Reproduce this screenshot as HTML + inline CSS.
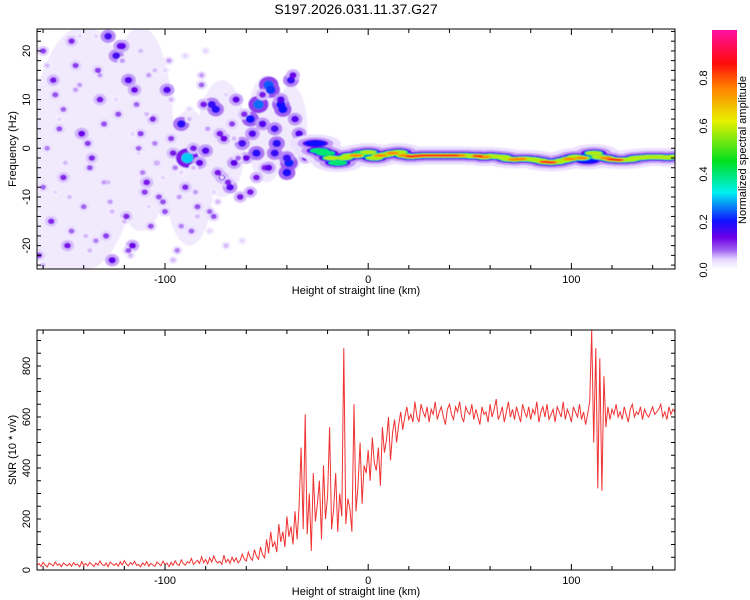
<!DOCTYPE html>
<html><head><meta charset="utf-8">
<style>
body{margin:0;background:#fff;}
svg{display:block;font-family:"Liberation Sans",sans-serif;}
</style></head>
<body>
<svg id="chart" width="750" height="600" viewBox="0 0 750 600" xmlns="http://www.w3.org/2000/svg">
<rect width="750" height="600" fill="#fff"/>
<text x="356" y="14" font-size="14" text-anchor="middle">S197.2026.031.11.37.G27</text>
<defs>
<clipPath id="clipTop"><rect x="37" y="29" width="638" height="240"/></clipPath>
<clipPath id="clipBot"><rect x="37" y="330" width="638" height="240"/></clipPath>
<linearGradient id="cbar" x1="0" y1="1" x2="0" y2="0">
<stop offset="0" stop-color="#ffffff"/><stop offset="0.04" stop-color="#e6d6ff"/><stop offset="0.08" stop-color="#a060f0"/>
<stop offset="0.13" stop-color="#7000e8"/><stop offset="0.2" stop-color="#1010ff"/><stop offset="0.32" stop-color="#00f0f0"/>
<stop offset="0.45" stop-color="#00e020"/><stop offset="0.62" stop-color="#e8f000"/><stop offset="0.76" stop-color="#ff8000"/>
<stop offset="0.86" stop-color="#ff0c0c"/><stop offset="1" stop-color="#ff10a0"/>
</linearGradient>
<filter id="soft"><feGaussianBlur stdDeviation="0.6"/></filter>
</defs>
<g id="topPlot"></g>
<g id="botPlot"></g>
<g>
<rect x="712" y="30" width="25" height="239" fill="url(#cbar)"/>
<g font-size="11" fill="#000">
<text transform="translate(707,270) rotate(-90)" text-anchor="middle">0.0</text>
<text transform="translate(707,222) rotate(-90)" text-anchor="middle">0.2</text>
<text transform="translate(707,174) rotate(-90)" text-anchor="middle">0.4</text>
<text transform="translate(707,126) rotate(-90)" text-anchor="middle">0.6</text>
<text transform="translate(707,78) rotate(-90)" text-anchor="middle">0.8</text>
<text transform="translate(746,150) rotate(-90)" text-anchor="middle" font-size="11">Normalized spectral amplitude</text>
</g>
</g>
</svg>
<script>
// ---- data ----
const xTicks=[-100,0,100];
const freqTicks=[-20,-10,0,10,20];
const snrTicks=[0,200,400,600,800];
const snrStart=-163, snrStep=1;
const snrValues=[18,25,14,30,20,12,27,22,16,31,
19,24,13,28,21,17,26,15,29,20,
23,12,33,18,25,16,30,21,14,27,
19,35,22,17,28,13,31,24,18,26,
15,32,20,37,23,16,29,21,34,18,
22,12,28,19,33,15,26,20,14,31,
24,17,35,21,27,13,30,19,36,22,
18,40,25,19,33,27,45,22,30,38,
26,52,29,41,24,48,31,55,36,28,
34,22,58,30,42,26,50,33,47,28,
38,62,44,35,70,49,38,80,55,42,90,60,48,120,65,150,90,110,
70,180,110,150,90,210,130,170,100,230,
120,250,480,160,610,140,300,75,380,190,260,350,120,410,200,290,
560,160,240,380,150,300,210,870,180,280,240,150,650,230,330,500,260,410,380,
470,350,520,420,390,480,330,560,460,510,600,430,540,590,500,570,620,550,600,640,590,610,580,660,600,
580,650,620,600,640,580,630,610,660,590,
620,640,600,570,630,650,610,590,640,620,
660,600,580,640,620,610,650,590,630,600,
570,640,610,620,580,650,600,630,670,590,
610,640,580,620,660,600,630,590,640,610,
580,650,620,600,640,590,630,610,660,580,
620,640,600,650,590,610,630,580,640,620,
600,660,590,630,610,580,640,620,600,650,
590,620,570,610,
660,940,500,870,320,830,310,760,560,640,590,
630,610,650,600,620,590,640,610,580,630,650,600,620,610,640,590,630,610,600,620,640,610,620,630,650,600,620,590,640,610,630,620];
// spectrogram features
const ridgeKm=[-26,-24,-21,-18,-15,-12,-9,-6,-3,0,3,6,9,12,15,18,21,24,27,30,33,36,39,42,45,48,51,54,57,60,63,66,69,72,75,78,81,84,87,90,93,96,99,102,105,108,111,114,117,120,123,126,129,132,135,138,141,144,147,150];
const ridgeHz=[1,-0.5,-1,-2,-3,-2,-1.5,-1.5,-1,-0.8,-2,-1.5,-1.3,-1,-0.8,-1.5,-1.7,-1.6,-1.5,-1.5,-1.5,-1.5,-1.5,-1.5,-1.5,-1.5,-1.6,-1.6,-1.8,-1.6,-1.7,-1.8,-2.2,-2.3,-2.2,-2.2,-2.3,-2.5,-2.8,-2.9,-2.8,-2.5,-2.2,-1.8,-2,-2.5,-1,-1.8,-2,-2.3,-2.4,-2.4,-2.3,-2,-1.9,-1.8,-1.8,-1.8,-1.9,-1.8];
const ridgeAmp=[0.3,0.35,0.45,0.5,0.45,0.55,0.6,0.7,0.45,0.6,0.55,0.75,0.6,0.7,0.55,0.65,0.8,0.85,0.9,0.9,0.9,0.85,0.85,0.8,0.75,0.6,0.55,0.8,0.65,0.55,0.5,0.5,0.6,0.75,0.7,0.5,0.6,0.55,0.85,0.85,0.6,0.5,0.7,0.55,0.75,0.3,0.55,0.55,0.7,0.85,0.85,0.6,0.5,0.5,0.5,0.55,0.55,0.5,0.5,0.5];
// light haze regions: centre km, centre Hz, half-width km, half-height Hz
const hazeKm=[-140,-112,-88,-72,-50,-38,-150];
const hazeHz=[0,4,-6,2,4,4,-18];
const hazeWkm=[26,16,12,12,10,8,14];
const hazeHhz=[25,21,14,12,11,9,8];
const blobKm=[-160,-155,-150,-146,-141,-137,-133,-128,-124,-121,-118,-115,-112,-109,-106,-103,-99,-96,-92,-89,-86,-83,-80,-77,-74,-71,-68,-65,-62,-58,-55,-52,-49,-46,-43,-40,-38,-36,-160,-156,-152,-148,-144,-140,-136,-132,-129,-126,-123,-119,-116,-113,-110,-107,-104,-100,-97,-94,-90,-87,-84,-81,-78,-75,-72,-69,-66,-63,-60,-57,-54,-51,-48,-45,-42,-39,-34,-31,-28,-162,-158,-154,-150,-146,-142,-138,-134,-130,-127,-122,-118,-114,-111,-108,-105,-101,-98,-95,-92,-88,-85,-82,-79,-76,-73,-70,-67,-64,-61,-58,-55,-52,-49,-46,-43,-40,-37,-160,-154,-149,-144,-139,-134,-130,-126,-121,-117,-113,-109,-105,-101,-97,-93,-90,-86,-82,-78,-74,-70,-66,-62,-158,-152,-147,-142,-137,-132,-128,-124,-120,-116,-112,-108,-104,-100,-96,-92,-88,-84,-80,-76,-72,-68];
const blobHz=[20,14,8,22,3,-4,16,23,19,21,14,12,3,-7,6,-10,12,-1,5,-2,0,-3,-0.5,9,-5,2,-8,10,1,6,-6,5,13,-1,9,-5,14,6,-8,-15,4,-20,17,-12,-2,10,-18,-23,7,-14,-20,0,-9,-16,-3,-13,2,-21,-8,-17,-12,9,-13,8,-6,-7,-3,-10,-2,3,9,-4,12,1,8,-3,3,-2,-1,-22,0,11,-6,-17,13,1,-19,5,-11,21,-21,9,-5,15,1,-11,18,-4,-16,6,-9,13,4,-14,3,-20,5,-2,7,-9,-1,11,-4,4,10,-2,15,-24,-9,-3,12,-18,23,-7,-13,18,-22,-1,7,16,-6,10,-10,19,-4,15,-17,-11,11,2,-19,17,6,-10,23,-21,15,-7,10,-15,3,20,-12,-3,16,-23,-5,8,-14,20,-9,-6,-11];
const blobAmp=[0.1,0.12,0.08,0.11,0.13,0.09,0.1,0.16,0.16,0.14,0.15,0.13,0.1,0.12,0.11,0.09,0.15,0.12,0.18,0.3,0.12,0.14,0.15,0.17,0.12,0.13,0.15,0.14,0.16,0.2,0.12,0.15,0.24,0.17,0.2,0.19,0.17,0.15,0.08,0.11,0.09,0.12,0.1,0.08,0.11,0.12,0.1,0.14,0.09,0.11,0.13,0.08,0.1,0.09,0.08,0.09,0.1,0.07,0.11,0.08,0.09,0.12,0.08,0.18,0.13,0.11,0.14,0.12,0.13,0.15,0.25,0.11,0.22,0.18,0.2,0.21,0.15,0.12,0.2,0.1,0.07,0.09,0.11,0.08,0.06,0.1,0.07,0.09,0.06,0.14,0.09,0.08,0.07,0.06,0.07,0.09,0.06,0.07,0.07,0.05,0.06,0.08,0.06,0.09,0.12,0.05,0.1,0.08,0.11,0.12,0.18,0.12,0.14,0.16,0.15,0.17,0.13,0.05,0.04,0.05,0.06,0.05,0.04,0.06,0.05,0.06,0.05,0.04,0.05,0.05,0.04,0.05,0.06,0.04,0.05,0.06,0.04,0.05,0.04,0.05,0.04,0.05,0.04,0.05,0.04,0.05,0.06,0.05,0.04,0.05,0.04,0.05,0.04,0.05,0.04,0.05,0.04,0.04,0.05,0.04,0.04,0.04];

// ---- axes ----
const NS="http://www.w3.org/2000/svg";
const X0=37,X1=675,XMIN=-163,XMAX=151;
const xs=v=>X0+(v-XMIN)/(XMAX-XMIN)*(X1-X0);
const fTop=29,fBot=269,FMIN=-24.8,FMAX=24.5;
const fy=v=>fBot-(v-FMIN)/(FMAX-FMIN)*(fBot-fTop);
const sTop=330,sBot=570,SMIN=0,SMAX=941;
const sy=v=>sBot-(v-SMIN)/(SMAX-SMIN)*(sBot-sTop);
const kmPx=(X1-X0)/(XMAX-XMIN), hzPx=(fBot-fTop)/(FMAX-FMIN);
function mk(tag,attrs,parent){const e=document.createElementNS(NS,tag);for(const k in attrs)e.setAttribute(k,attrs[k]);parent.appendChild(e);return e;}
const stops=[[0,[255,255,255]],[0.04,[230,214,255]],[0.08,[160,96,240]],[0.13,[112,0,232]],[0.2,[16,16,255]],[0.32,[0,240,240]],[0.45,[0,224,32]],[0.62,[232,240,0]],[0.76,[255,128,0]],[0.86,[255,12,12]],[1,[255,16,160]]];
function cmap(v){v=Math.max(0,Math.min(1,v));for(let i=1;i<stops.length;i++){if(v<=stops[i][0]){const a=stops[i-1],b=stops[i],t=(v-a[0])/(b[0]-a[0]);const c=a[1].map((q,j)=>Math.round(q+(b[1][j]-q)*t));return `rgb(${c})`;}}return 'rgb(255,16,160)';}

const topG=document.getElementById('topPlot');
const botG=document.getElementById('botPlot');
const tg=mk('g',{'clip-path':'url(#clipTop)'},topG);
const tgi=mk('g',{filter:'url(#soft)'},tg);
for(let i=0;i<hazeKm.length;i++){
 const e=mk('ellipse',{cx:xs(hazeKm[i]),cy:fy(hazeHz[i]),rx:hazeWkm[i]*kmPx,ry:hazeHhz[i]*hzPx,fill:'#f1eafd'},tgi);
 
 
}
// noise blobs, halo layers first
const layers=[[0.4,1.9],[1,1]];
layers.forEach(([f,s])=>{
 for(let i=0;i<blobKm.length;i++){
  const a=blobAmp[i];
  const e=mk('ellipse',{cx:xs(blobKm[i]),cy:fy(blobHz[i]),rx:(1.8+a*14)*s,ry:(1.6+a*12)*s,fill:cmap(a*f)},tgi);
  
  
 }
});
// ridge
const rl=[[0.02,9,0.03],[0.05,6,0.06],[0.15,4,0.13],[0.22,3.2,0.2],[0.35,2.6,0.4],[0.5,2,0.58],[0.65,1.4,0.75],[0.8,0.9,0.88]];
rl.forEach(([th,w,c])=>{
 for(let i=0;i<ridgeKm.length;i++){
  const a=ridgeAmp[i];
  if(a<th)continue;
  const e=mk('ellipse',{cx:xs(ridgeKm[i]),cy:fy(ridgeHz[i]),rx:2.5*w+3,ry:w,fill:cmap(c)},tgi);
  
  
 }
});
// frames & ticks
function frame(g,yT,yB,yTicksVals,yfun,minorStep,ymin,ymax,ylabel){
 const r=mk('rect',{x:X0,y:yT,width:X1-X0,height:yB-yT,fill:'none',stroke:'#000','stroke-width':1},g);
 
 
 for(let v=-160;v<=150;v+=20){const x=xs(v);const big=v%100===0;
  mk('line',{x1:x,y1:yB,x2:x,y2:yB-(big?6:4),stroke:'#000'},g);mk('line',{x1:x,y1:yT,x2:x,y2:yT+(big?6:4),stroke:'#000'},g);}
 for(let v=Math.ceil(ymin/minorStep)*minorStep;v<=ymax;v+=minorStep){const y=yfun(v);
  mk('line',{x1:X0,y1:y,x2:X0+4,y2:y,stroke:'#000'},g);mk('line',{x1:X1,y1:y,x2:X1-4,y2:y,stroke:'#000'},g);}
 xTicks.forEach(v=>{const t=mk('text',{x:xs(v),y:yB+14,'font-size':11,'text-anchor':'middle'},g);t.textContent=v;
  });
 yTicksVals.forEach(v=>{const t=mk('text',{transform:`translate(30,${yfun(v)}) rotate(-90)`,'font-size':11,'text-anchor':'middle'},g);t.textContent=v;
  });
 const xl=mk('text',{x:356,y:yB+25,'font-size':11,'text-anchor':'middle'},g);xl.textContent='Height of straight line (km)';
 
 const yl=mk('text',{transform:`translate(16,${(yT+yB)/2}) rotate(-90)`,'font-size':11,'text-anchor':'middle'},g);yl.textContent=ylabel;
 
}
frame(topG,fTop,fBot,freqTicks,fy,2,FMIN,FMAX,'Frequency (Hz)');
// snr line
const bg=mk('g',{'clip-path':'url(#clipBot)'},botG);
const pts=snrValues.map((v,i)=>`${xs(snrStart+i*snrStep).toFixed(1)},${sy(v).toFixed(1)}`).join(' ');
const pl=mk('polyline',{points:pts,fill:'none',stroke:'#f03232','stroke-width':1},bg);


frame(botG,sTop,sBot,snrTicks,sy,50,SMIN,SMAX,'SNR (10 * v/v)');
</script>
</body></html>
